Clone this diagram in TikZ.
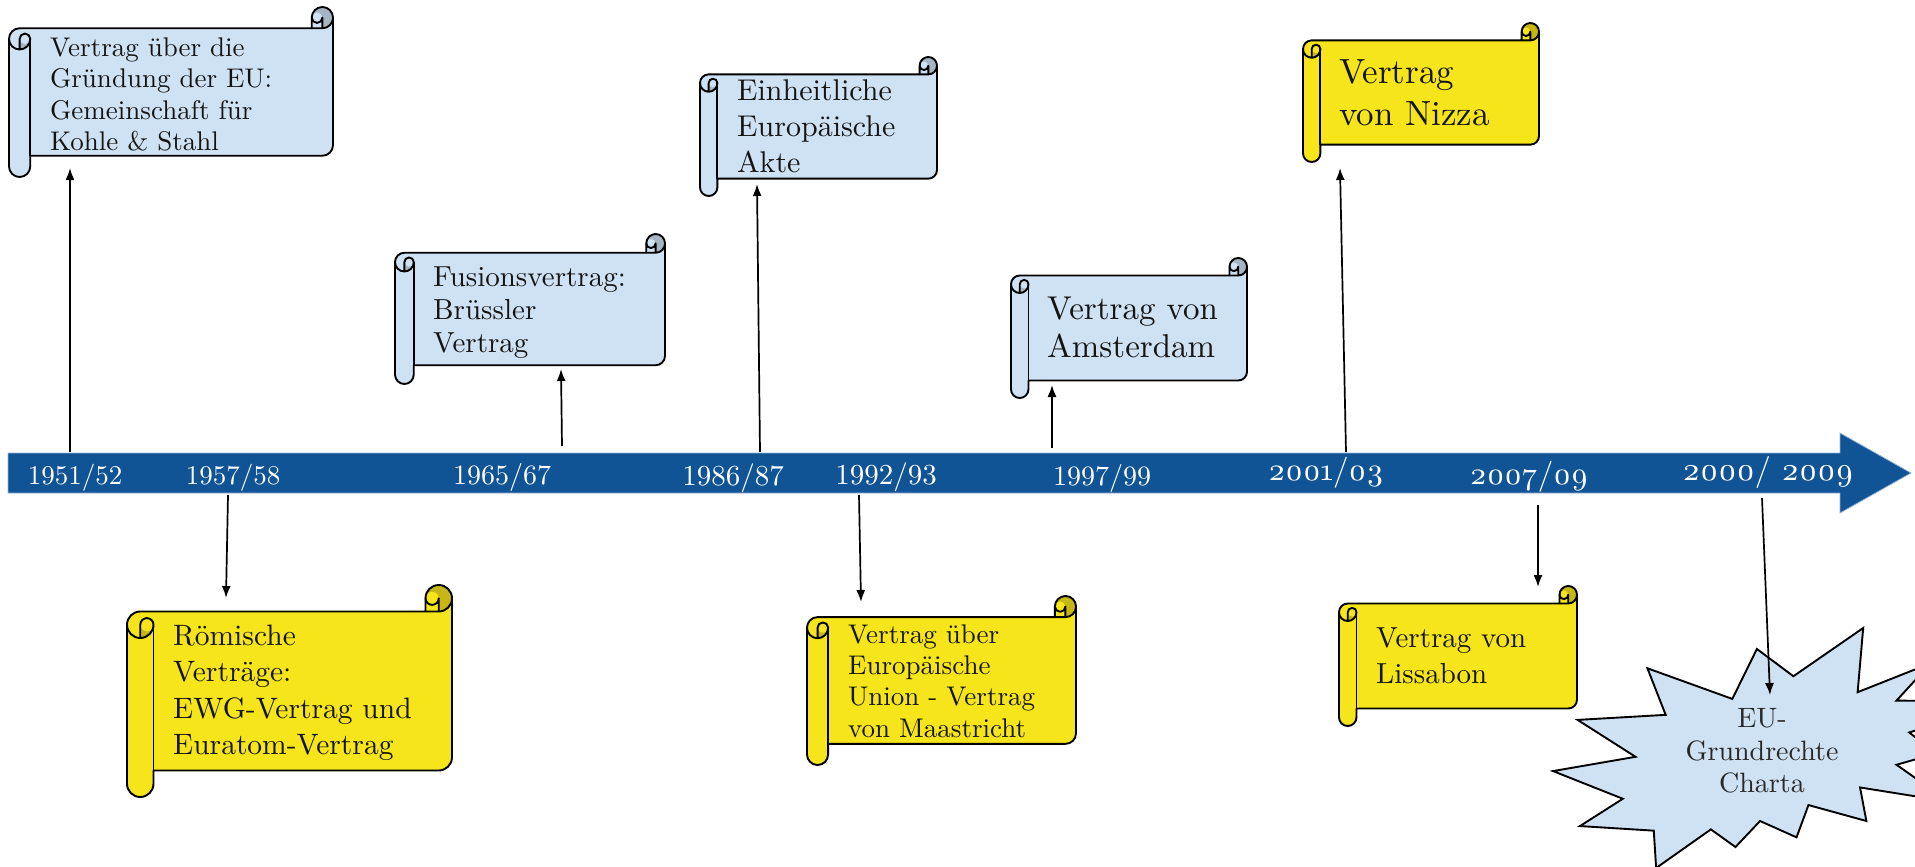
\documentclass[tikz,border=0pt]{standalone}
\usepackage{fontspec}
\setmainfont{lmroman10-regular.otf}
\usetikzlibrary{arrows.meta}
\newfontfamily\osfont{lmroman10-regular.otf}[Numbers=OldStyle]
\definecolor{bandblue}{RGB}{16,84,150}
\definecolor{bandedge}{RGB}{150,180,215}
\definecolor{scrollblue}{RGB}{207,226,243}
\definecolor{scrollbluedk}{RGB}{166,181,195}
\definecolor{scrollyel}{RGB}{247,229,28}
\definecolor{scrollyeldk}{RGB}{198,183,22}
\definecolor{txtdark}{RGB}{20,20,20}
\definecolor{startxt}{RGB}{40,40,40}
\tikzset{
  scrollline/.style={draw=black, line width=1.9pt, line join=round},
  arr/.style={-{Latex[length=12pt,width=9pt]}, line width=1.7pt, draw=black},
  yearlbl/.style={text=white, anchor=base, inner sep=0pt},
  boxtxt/.style={text=txtdark, anchor=north west, inner sep=0pt, align=left},
}
% horizontal scroll: #1 name, #2 l, #3 t, #4 r, #5 b, #6 fill, #7 dark fill
\newcommand{\drawscroll}[7]{%
  \pgfmathsetmacro\scW{#4-#2}%
  \pgfmathsetmacro\scH{#5-#3}%
  \pgfmathsetmacro\scC{0.125*min(\scW,\scH)}%
  \pgfmathsetmacro\scB{\scC/2}%
  \pgfmathsetmacro\scD{\scC/4}%
  \pgfmathsetmacro\scYc{\scC+\scB}%
  \pgfmathsetmacro\scYd{2*\scC}%
  \pgfmathsetmacro\scYf{\scH-\scC}%
  \pgfmathsetmacro\scYg{\scH-\scB}%
  \pgfmathsetmacro\scYe{\scYf-\scB}%
  \pgfmathsetmacro\scXc{\scW-\scC}%
  \pgfmathsetmacro\scXd{\scW-\scB}%
  \begin{scope}[shift={(#2,#3)}]
    \fill[#6] (0,\scYc) arc[start angle=180,delta angle=90,radius=\scB]
      -- (\scXc,\scC) -- (\scXc,\scB) arc[start angle=180,delta angle=180,radius=\scB]
      -- (\scW,\scYe) arc[start angle=0,delta angle=90,radius=\scB]
      -- (\scC,\scYf) -- (\scC,\scYg) arc[start angle=0,delta angle=180,radius=\scB] -- cycle;
    \fill[#7] (\scB,\scYd) arc[start angle=90,delta angle=-90,radius=\scB]
      arc[start angle=0,delta angle=180,radius=\scD] -- cycle;
    \fill[#7] (\scXd,\scC) arc[start angle=90,delta angle=-270,radius=\scB]
      arc[start angle=180,delta angle=180,radius=\scD] -- cycle;
    \draw[scrollline] (0,\scYc) arc[start angle=180,delta angle=90,radius=\scB]
      -- (\scXc,\scC) -- (\scXc,\scB) arc[start angle=180,delta angle=180,radius=\scB]
      -- (\scW,\scYe) arc[start angle=0,delta angle=90,radius=\scB]
      -- (\scC,\scYf) -- (\scC,\scYg) arc[start angle=0,delta angle=180,radius=\scB] -- cycle;
    \draw[scrollline] (\scXc,\scC) -- (\scXd,\scC) arc[start angle=90,delta angle=-90,radius=\scB];
    \draw[scrollline] (\scXd,\scC) -- (\scXd,\scB) arc[start angle=0,delta angle=180,radius=\scD];
    \draw[scrollline] (\scB,\scYd) -- (\scB,\scYc) arc[start angle=180,delta angle=180,radius=\scD]
      arc[start angle=0,delta angle=180,radius=\scB];
    \draw[scrollline] (\scC,\scYc) -- (\scC,\scYf);
  \end{scope}
  \coordinate (#1-nw) at (#2,#3);
  \coordinate (#1-se) at (#4,#5);
}
% text of a scroll: #1 name, #2 x, #3 first baseline, #4 size, #5 skip, #6 text
\newcommand{\scrolltext}[6]{%
  \node[boxtxt, font=\fontsize{#4}{#5}\selectfont] (#1) at (#2,{#3-0.75*#4}) {\rule{0pt}{0.75em}#6};
}
\begin{document}
\begin{tikzpicture}[x=1pt,y=-1pt]
\useasboundingbox (0,0) rectangle (1915,867);
\clip (0,0) rectangle (1915,867);

% timeline band
\path[fill=bandblue, draw=bandedge, line width=0.8pt]
  (8,453) -- (1840,453) -- (1840,433) -- (1911,473) -- (1840,513) -- (1840,493) -- (8,493) -- cycle;

% year labels
\node[yearlbl, font=\fontsize{27}{30}\selectfont] (y1) at (75,484) {1951/52};
\node[yearlbl, font=\fontsize{27}{30}\selectfont] (y2) at (233,484) {1957/58};
\node[yearlbl, font=\fontsize{28}{30}\selectfont] (y3) at (502,484) {1965/67};
\node[yearlbl, font=\fontsize{29}{30}\selectfont] (y4) at (733,485) {1986/87};
\node[yearlbl, font=\fontsize{29}{30}\selectfont] (y5) at (886,484) {1992/93};
\node[yearlbl, font=\fontsize{28}{30}\selectfont] (y6) at (1102,485) {1997/99};
\node[yearlbl, font=\osfont\fontsize{31}{34}\selectfont] (y7) at (1326,480) {2001/03};
\node[yearlbl, font=\osfont\fontsize{31}{34}\selectfont] (y8) at (1529,484) {2007/09};
\node[yearlbl, font=\osfont\fontsize{32}{34}\selectfont] (y9) at (1768,480) {2000/ 2009};

% scrolls
\drawscroll{s1}{9}{7}{333}{177}{scrollblue}{scrollbluedk}
\scrolltext{t1}{50}{56}{27}{31.5}{Vertrag über die\\Gründung der EU:\\Gemeinschaft für\\Kohle \& Stahl}
\drawscroll{s2}{395}{234}{665}{384}{scrollblue}{scrollbluedk}
\scrolltext{t2}{433}{286}{29}{33}{Fusionsvertrag:\\Brüssler\\Vertrag}
\drawscroll{s3}{700}{57}{937}{196}{scrollblue}{scrollbluedk}
\scrolltext{t3}{737}{100}{30}{36}{Einheitliche\\Europäische\\Akte}
\drawscroll{s4}{1011}{258}{1247}{398}{scrollblue}{scrollbluedk}
\scrolltext{t4}{1047}{319}{33}{38}{Vertrag von\\Amsterdam}
\drawscroll{s5}{1303}{23}{1539}{162}{scrollyel}{scrollyeldk}
\scrolltext{t5}{1339}{83}{35}{42}{Vertrag\\von Nizza}
\drawscroll{s6}{127}{585}{452}{797}{scrollyel}{scrollyeldk}
\scrolltext{t6}{173}{645}{29.5}{36.5}{Römische\\Verträge:\\EWG-Vertrag und\\Euratom-Vertrag}
\drawscroll{s7}{807}{596}{1076}{765}{scrollyel}{scrollyeldk}
\scrolltext{t7}{848}{643}{27}{31.3}{Vertrag über\\Europäische\\Union - Vertrag\\von Maastricht}
\drawscroll{s8}{1339}{586}{1577}{726}{scrollyel}{scrollyeldk}
\scrolltext{t8}{1376}{647}{29}{36.5}{Vertrag von\\Lissabon}

% explosion
\begin{scope}[shift={(1553,628)}, xscale=2.0972, yscale=1.1111]
\draw[fill=scrollblue, line width=1.9pt] (114.62,43.42) -- (147.90,0) -- (145.25,57.77) -- (180.07,31.72)
  -- (163.80,65.32) -- (216.00,66.45) -- (169.85,94.02) -- (182.70,112.90) -- (163.80,123.10)
  -- (188.77,156.32) -- (146.40,143.50) -- (149.42,173.70) -- (121.80,159.35) -- (116.12,188.42)
  -- (98.72,173.70) -- (87.00,197.12) -- (75.27,181.25) -- (49.17,216.00) -- (48.05,182.40)
  -- (12.85,178.25) -- (33.30,153.70) -- (0,128.77) -- (39.35,115.92) -- (11.72,82.70)
  -- (53.72,78.17) -- (45.02,36.25) -- (85.50,63.82) -- (97.22,18.87) -- cycle;
\end{scope}
\node[align=center, text=startxt, inner sep=0pt, font=\fontsize{28}{32.5}\selectfont] (star) at (1762,751) {EU-\\Grundrechte\\Charta};

% connectors
\coordinate (a1s) at (70,452);   \coordinate (a1e) at (70,168);
\coordinate (a2s) at (228,495);  \coordinate (a2e) at (226,598);
\coordinate (a3s) at (562,446);  \coordinate (a3e) at (561,369);
\coordinate (a4s) at (760,452);  \coordinate (a4e) at (757,184);
\coordinate (a5s) at (859,495);  \coordinate (a5e) at (861,602);
\coordinate (a6s) at (1052,448); \coordinate (a6e) at (1052,385);
\coordinate (a7s) at (1346,452); \coordinate (a7e) at (1340,168);
\coordinate (a8s) at (1538,505); \coordinate (a8e) at (1538,587);
\coordinate (a9s) at (1762,498); \coordinate (a9e) at (1770,695);
\foreach \i in {1,...,9} { \draw[arr] (a\i s) -- (a\i e); }
\end{tikzpicture}
\end{document}
